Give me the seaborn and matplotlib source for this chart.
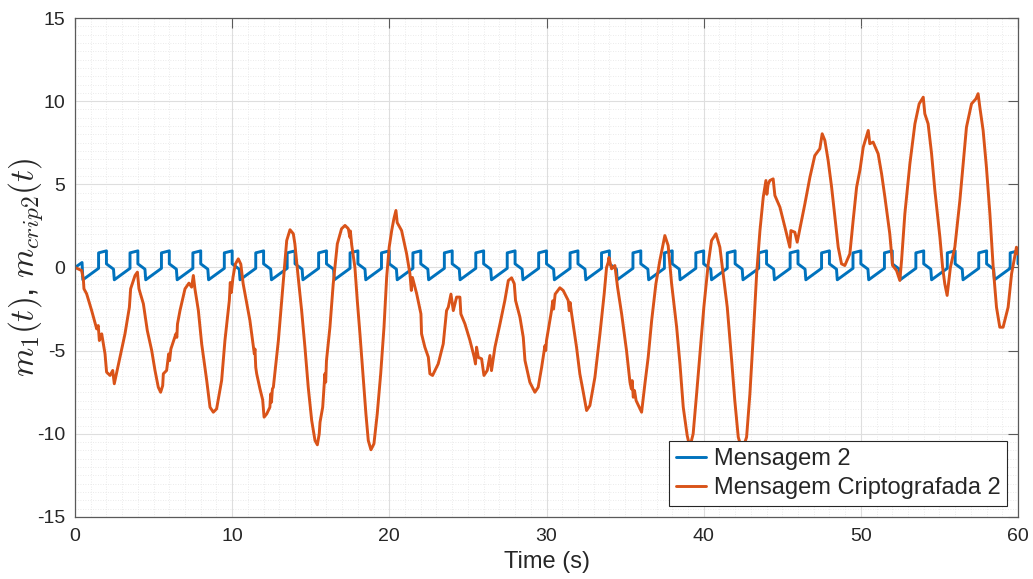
import numpy as np
import pandas as pd
import matplotlib
matplotlib.use("Agg")
import matplotlib.pyplot as plt
from matplotlib.ticker import MultipleLocator
import seaborn as sns

# ---------------- data ----------------
# Blue message: initial piece, then one repeated cycle shape
blue_init_t = [0.0, 0.45]
blue_init_y = [0.0, 0.30]
blue_cycle_start = [0.5, 2.5, 4.5, 6.5, 8.5, 10.5, 12.5, 14.5, 16.5, 18.5,
                    20.5, 22.5, 24.5, 26.5, 28.5, 30.5, 32.5, 34.5, 36.5, 38.5,
                    40.5, 42.5, 44.5, 46.5, 48.5, 50.5, 52.5, 54.5, 56.5, 58.5]
blue_cycle_dt = [0.0, 1.0, 1.0, 1.5, 1.5, 1.95]
blue_cycle_y = [-0.74, -0.05, 0.88, 1.0, 0.22, -0.10]

# Orange encrypted message (time, value) read point by point
orange_t = [0.0, 0.42, 0.53, 0.57, 0.74, 1.06, 1.38, 1.48, 1.55, 1.70, 1.91, 2.01,
            2.23, 2.40, 2.50, 2.86, 3.18, 3.46, 3.54, 3.82, 3.97, 4.07, 4.35, 4.60,
            4.88, 5.09, 5.30, 5.45, 5.58, 5.62, 5.83, 5.96, 6.02, 6.10, 6.42, 6.48,
            6.52, 6.68, 7.00, 7.25, 7.42, 7.53, 7.63, 7.85, 8.06, 8.38, 8.59, 8.80,
            9.01, 9.33, 9.54, 9.82, 9.88, 9.95, 10.05, 10.20, 10.39, 10.55, 10.70,
            11.13, 11.41, 11.45, 11.50, 11.56, 11.77, 11.94, 12.03, 12.20, 12.40,
            12.45, 12.50, 12.56, 12.62, 12.94, 13.15, 13.36, 13.47, 13.68, 13.89,
            13.99, 14.20, 14.42, 14.63, 14.84, 15.06, 15.27, 15.42, 15.54, 15.59,
            15.76, 15.90, 15.95, 16.00, 16.22, 16.43, 16.69, 16.96, 17.18, 17.39,
            17.49, 17.52, 17.60, 17.81, 17.96, 18.13, 18.34, 18.51, 18.66, 18.83,
            19.02, 19.23, 19.45, 19.66, 19.83, 19.99, 20.15, 20.29, 20.42, 20.50,
            20.78, 21.10, 21.31, 21.40, 21.47, 21.74, 22.01, 22.05, 22.26, 22.48,
            22.58, 22.75, 23.11, 23.43, 23.50, 23.64, 23.75, 23.92, 24.07, 24.28,
            24.49, 24.55, 24.81, 25.13, 25.40, 25.48, 25.55, 25.66, 25.87, 26.02,
            26.23, 26.40, 26.50, 26.72, 27.04, 27.35, 27.57, 27.78, 27.95, 28.03,
            28.31, 28.52, 28.63, 28.94, 29.26, 29.47, 29.69, 29.90, 29.95, 30.00,
            30.32, 30.40, 30.45, 30.55, 30.85, 31.06, 31.38, 31.45, 31.50, 31.60,
            31.91, 32.12, 32.34, 32.55, 32.76, 33.08, 33.40, 33.67, 33.82, 33.93,
            33.97, 34.14, 34.35, 34.52, 34.78, 35.09, 35.31, 35.40, 35.45, 35.52,
            35.60, 35.70, 36.00, 36.05, 36.26, 36.47, 36.69, 36.96, 37.21, 37.53,
            37.74, 37.96, 38.28, 38.49, 38.70, 38.95, 39.12, 39.33, 39.55, 39.76,
            40.01, 40.29, 40.50, 40.78, 41.03, 41.24, 41.50, 41.78, 41.98, 42.20,
            42.45, 42.73, 42.94, 43.15, 43.37, 43.58, 43.79, 43.96, 44.02, 44.10,
            44.21, 44.42, 44.53, 44.85, 45.17, 45.48, 45.55, 45.80, 45.95, 46.23,
            46.44, 46.76, 47.07, 47.39, 47.54, 47.71, 47.92, 48.14, 48.35, 48.56,
            48.77, 48.98, 49.30, 49.51, 49.73, 49.95, 50.15, 50.47, 50.57, 50.78,
            51.10, 51.32, 51.53, 51.84, 52.02, 52.27, 52.48, 52.59, 52.80, 53.12,
            53.44, 53.71, 53.97, 54.07, 54.28, 54.50, 54.71, 55.03, 55.20, 55.34,
            55.49, 55.70, 55.98, 56.30, 56.72, 57.04, 57.32, 57.46, 57.57, 57.78,
            57.99, 58.21, 58.42, 58.63, 58.84, 59.05, 59.37, 59.59, 59.90, 60.00]
orange_y = [0.0, -0.18, -0.68, -1.28, -1.58, -2.59, -3.69, -3.49, -4.39, -3.99, -5.19, -6.29,
            -6.49, -6.19, -6.99, -5.39, -3.99, -2.39, -1.28, -0.48, -0.28, -1.28, -2.18, -3.79,
            -4.99, -6.19, -7.20, -7.50, -7.10, -6.39, -6.19, -5.19, -5.60, -4.90, -3.99, -4.20,
            -3.40, -2.59, -1.28, -0.94, -1.18, -0.48, -1.28, -2.59, -4.59, -6.79, -8.40, -8.70,
            -8.50, -6.79, -4.39, -1.98, -0.90, -1.50, -0.60, 0.20, 0.52, 0.20, -0.98,
            -3.19, -5.19, -4.90, -6.00, -6.39, -7.30, -7.95, -9.00, -8.80, -8.40,
            -7.60, -8.10, -7.30, -7.20, -4.39, -1.98, 0.42, 1.62, 2.27, 2.03,
            1.42, -0.58, -2.59, -4.79, -7.20, -9.20, -10.40, -10.66, -10.00, -9.30,
            -8.40, -6.39, -6.90, -5.60, -3.59, -0.98, 1.42, 2.33, 2.53, 2.33,
            1.82, 2.20, 1.40, 0.00, -1.98, -3.99, -6.60, -8.80, -10.40, -10.96,
            -10.60, -8.80, -6.39, -3.59, -0.58, 1.22, 2.22, 2.93, 3.43, 2.70,
            2.22, 0.82, -0.38, -1.38, -0.60, -1.58, -2.79, -3.99, -4.79, -5.39,
            -6.39, -6.49, -5.79, -4.59, -3.90, -2.59, -2.39, -1.60, -2.59, -1.78,
            -1.78, -2.79, -3.39, -4.39, -5.39, -5.80, -4.79, -5.40, -5.49, -6.49,
            -6.19, -5.29, -6.20, -4.79, -3.39, -1.98, -0.78, -0.62, -0.98, -1.98,
            -2.99, -4.19, -5.59, -6.90, -7.50, -7.20, -6.00, -4.70, -5.00, -4.39,
            -2.59, -2.00, -2.50, -1.60, -1.22, -1.38, -1.98, -2.60, -2.10, -2.80,
            -4.79, -6.39, -7.50, -8.60, -8.30, -6.60, -3.99, -1.58, 0.00, 0.32,
            0.60, -0.08, 0.12, -1.18, -2.79, -4.99, -6.90, -7.30, -6.80, -7.80,
            -7.40, -8.00, -8.60, -8.70, -7.00, -5.39, -3.19, -0.98, 0.42, 1.92,
            1.32, -0.98, -3.59, -5.79, -8.40, -10.10, -10.80, -10.00, -7.60, -5.19,
            -2.39, 0.22, 1.62, 2.03, 1.22, -0.38, -2.39, -5.59, -8.00, -10.20,
            -11.00, -10.20, -7.60, -4.19, -0.38, 2.22, 4.23, 5.23, 4.40, 5.00,
            5.23, 5.33, 4.33, 3.63, 2.42, 1.22, 2.22, 2.12, 1.52, 2.83,
            3.83, 5.43, 6.73, 7.14, 8.04, 7.64, 6.43, 4.83, 3.02, 1.22,
            0.22, 0.12, 0.82, 2.83, 4.83, 5.90, 7.23, 8.24, 7.44, 7.54,
            6.84, 5.63, 4.23, 2.03, 0.12, -0.18, -0.78, 0.42, 3.23, 6.24,
            8.64, 9.84, 10.24, 9.24, 8.64, 6.84, 4.63, 1.82, 0.02, -0.98,
            -1.68, 0.02, 1.22, 4.03, 8.44, 9.84, 10.14, 10.45, 9.64, 8.24,
            6.03, 3.23, 0.02, -2.39, -3.59, -3.59, -2.39, -0.38, 1.22, 0.80]

x_ticks = [0, 10, 20, 30, 40, 50, 60]
y_ticks = [-15, -10, -5, 0, 5, 10, 15]
series_names = ["Mensagem 2", "Mensagem Criptografada 2"]

# ---------------- build blue series ----------------
bt = list(blue_init_t)
by = list(blue_init_y)
for s in blue_cycle_start:
    for dt, v in zip(blue_cycle_dt, blue_cycle_y):
        if s + dt <= 60.0:
            bt.append(s + dt)
            by.append(v)
blue_df = pd.DataFrame({"t": bt, "y": by})
orange_df = pd.DataFrame({"t": orange_t, "y": orange_y})

# ---------------- style ----------------
sns.set_theme(style="white")
plt.rcParams["font.family"] = ["Liberation Sans", "DejaVu Sans"]
plt.rcParams["mathtext.fontset"] = "cm"
plt.rcParams["axes.unicode_minus"] = False

fig = plt.figure(figsize=(10.33, 5.79), dpi=100)
ax = fig.add_axes([0.0726, 0.1071, 0.9129, 0.8618])

sns.lineplot(data=blue_df, x="t", y="y", ax=ax, color="#0072BD", linewidth=2.1,
             estimator=None, sort=False, label=series_names[0])
sns.lineplot(data=orange_df, x="t", y="y", ax=ax, color="#D95319", linewidth=2.1,
             estimator=None, sort=False, label=series_names[1])

ax.set_xlim(0, 60)
ax.set_ylim(-15, 15)
ax.set_xticks(x_ticks)
ax.set_yticks(y_ticks)
ax.set_xticklabels([str(v) for v in x_ticks])
ax.set_yticklabels([str(v) for v in y_ticks])
ax.xaxis.set_minor_locator(MultipleLocator(1))
ax.yaxis.set_minor_locator(MultipleLocator(0.5))

ax.set_axisbelow(True)
ax.grid(which="major", color="#dedede", linewidth=0.8, linestyle="-")
ax.grid(which="minor", color="#e4e4e4", linewidth=0.6, linestyle=(0, (1, 2)))

ax.tick_params(which="major", direction="in", length=7, width=0.8,
               top=True, right=True, labelsize=14, labelcolor="#262626",
               color="#5a5a5a")
ax.tick_params(axis="x", which="major", pad=8)
ax.tick_params(axis="y", which="major", pad=7)
ax.tick_params(which="minor", length=0)
for sp in ax.spines.values():
    sp.set_color("#5a5a5a")
    sp.set_linewidth(0.9)

ax.set_xlabel("Time (s)", fontsize=17, color="#262626", labelpad=4)
ax.set_ylabel(r"$m_1(t)$, $m_{crip2}(t)$", fontsize=24, color="#262626")
ax.yaxis.set_label_coords(-0.032, 0.5)

leg = ax.legend(loc="lower right", fontsize=17, frameon=True, fancybox=False,
                edgecolor="#262626", framealpha=1.0, handlelength=1.3,
                handletextpad=0.3, borderpad=0.3, labelspacing=0.3,
                borderaxespad=0.45)
leg.get_frame().set_linewidth(0.8)
for line in leg.get_lines():
    line.set_linewidth(2.1)

fig.savefig("out.png", dpi=100)
